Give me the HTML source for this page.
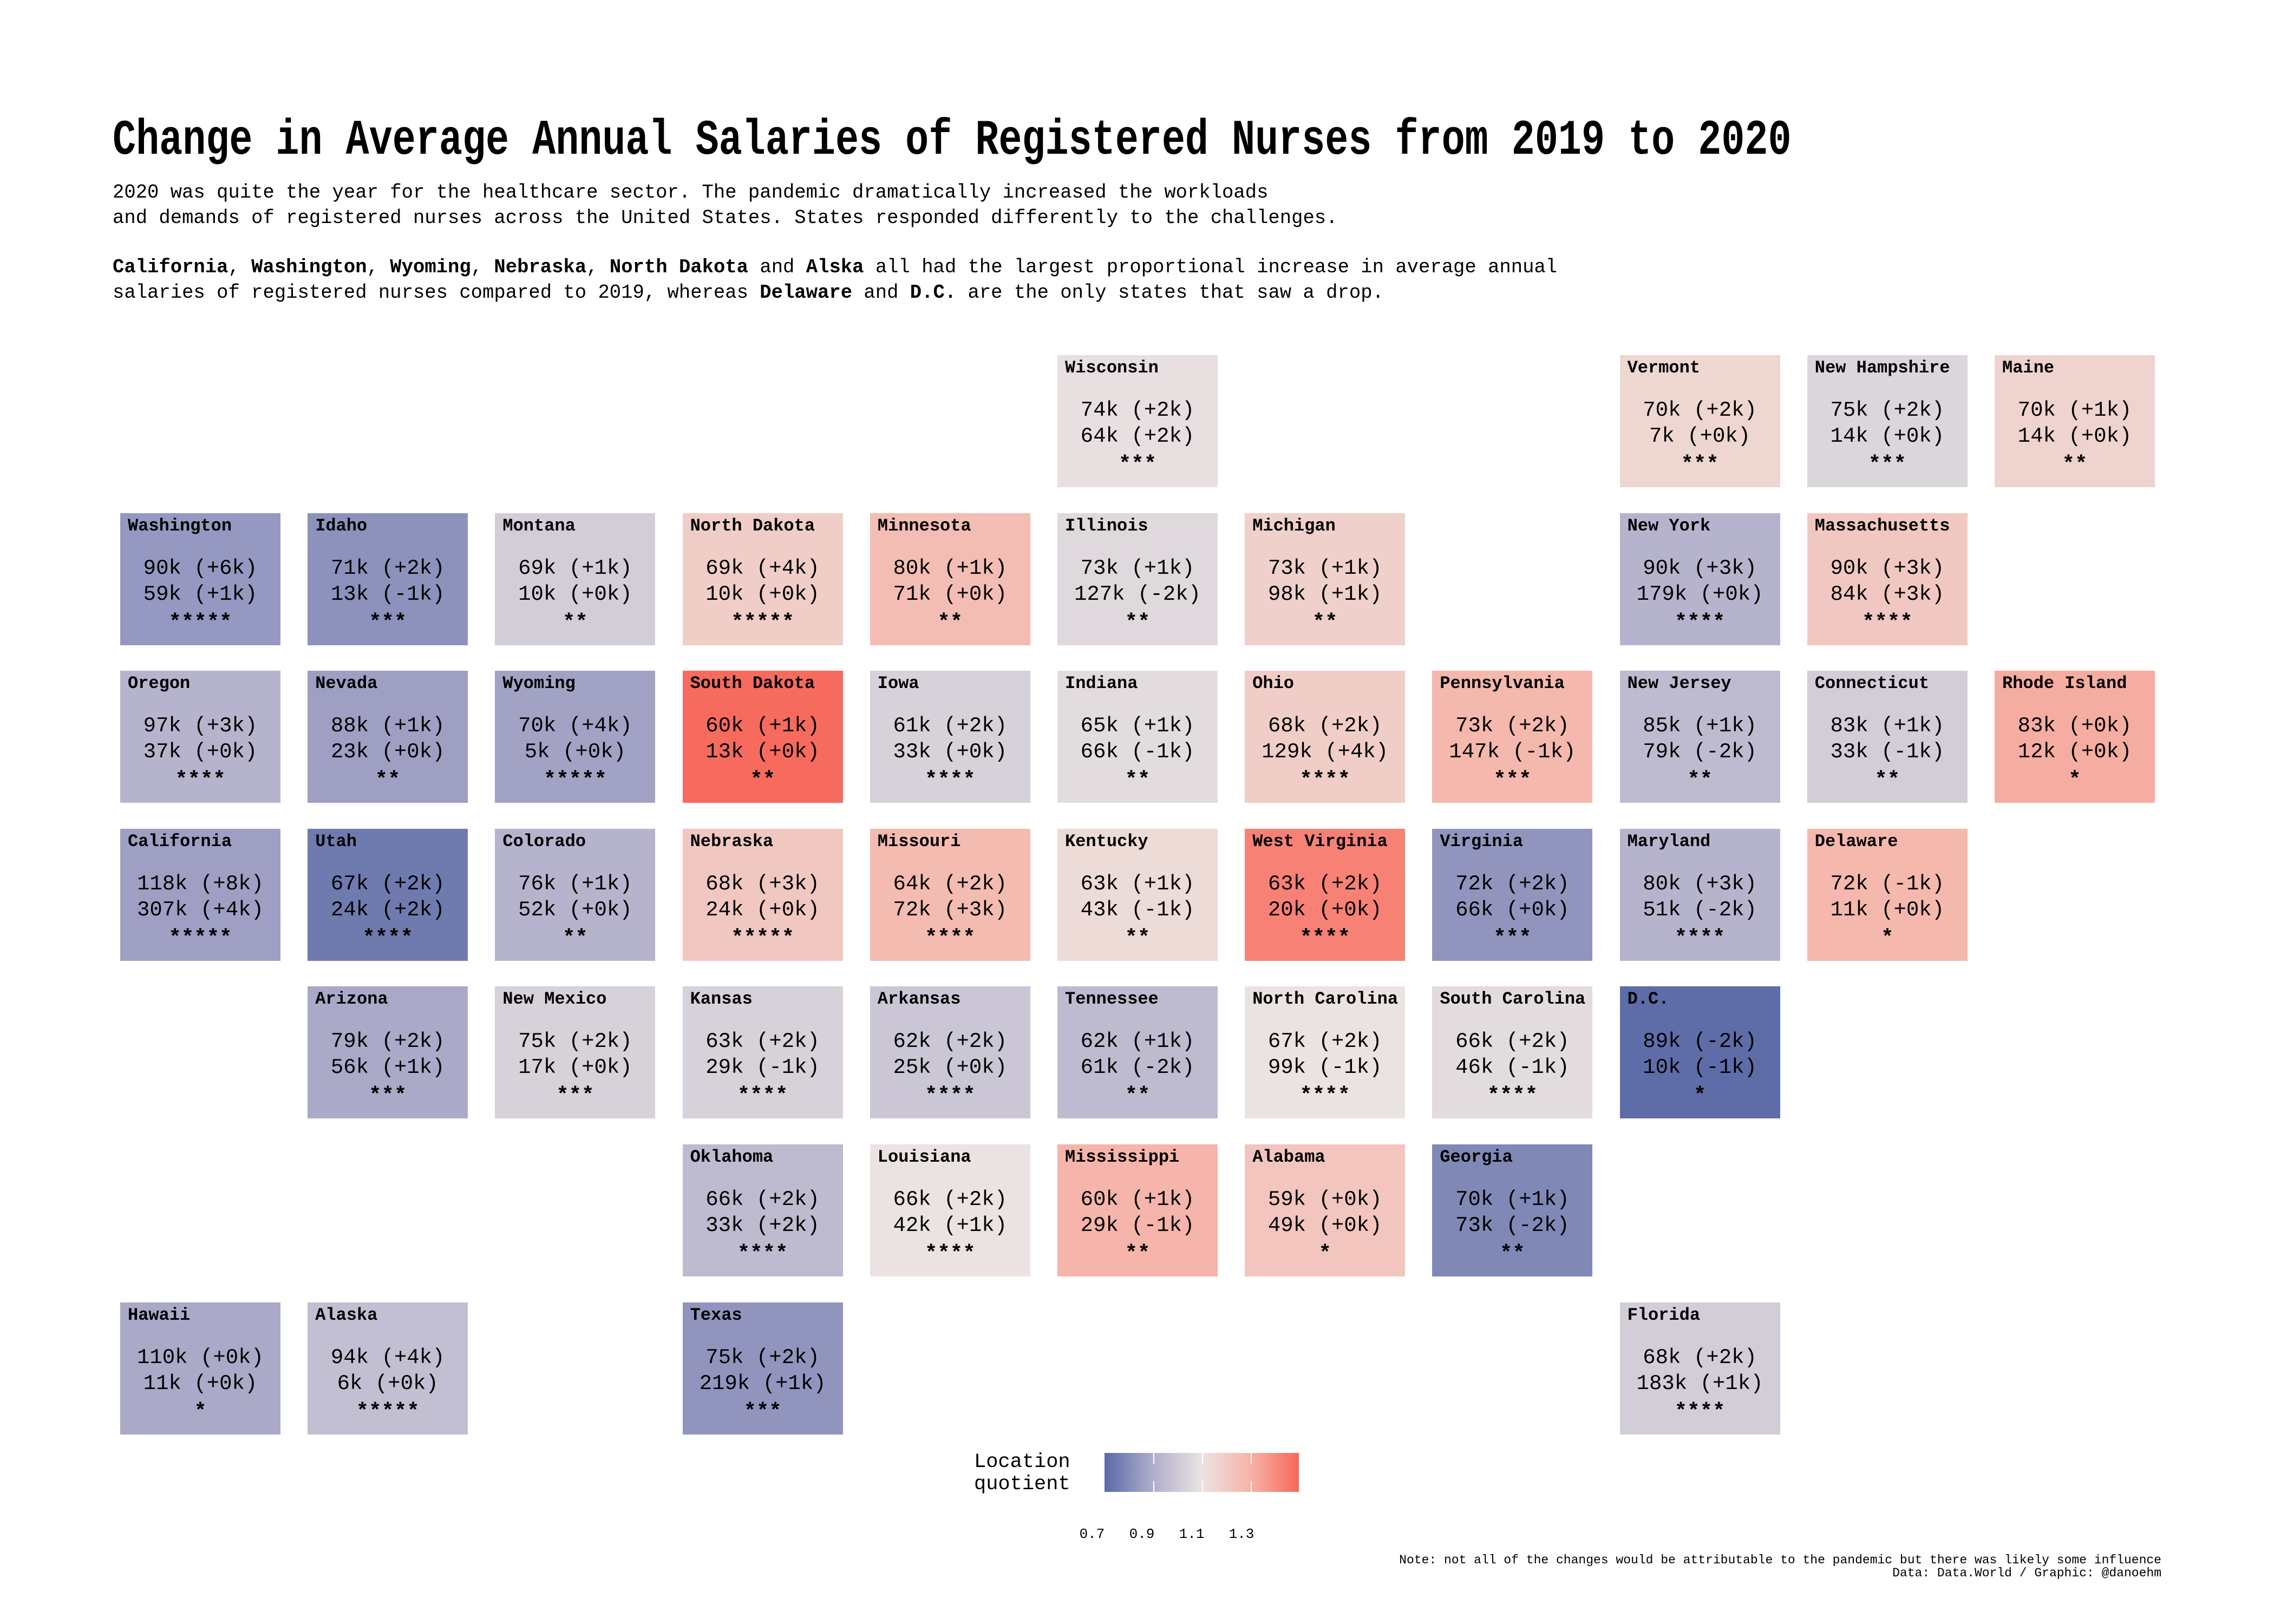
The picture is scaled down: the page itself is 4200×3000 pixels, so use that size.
<!DOCTYPE html>
<html><head><meta charset="utf-8">
<style>
body{margin:0;background:#fff;}
#root{position:relative;width:4200px;height:3000px;overflow:hidden;font-family:"Liberation Mono",monospace;color:#000;}
.t{position:absolute;white-space:pre;}
.tile{position:absolute;width:296px;height:244px;}
.tile .nm{position:absolute;left:14px;top:4px;font-size:32px;font-weight:bold;line-height:40px;}
.tile .v{position:absolute;left:0;width:296px;text-align:center;font-size:39px;line-height:48px;}
</style></head>
<body>
<div id="root">
<div class="t" style="left:208px;top:205px;font-size:92px;font-weight:bold;line-height:110px;transform:scaleX(0.78);transform-origin:0 0;">Change in Average Annual Salaries of Registered Nurses from 2019 to 2020</div>
<div class="t" style="left:208px;top:332px;font-size:36px;line-height:47px;transform:scaleX(0.988);transform-origin:0 0;">2020 was quite the year for the healthcare sector. The pandemic dramatically increased the workloads
and demands of registered nurses across the United States. States responded differently to the challenges.</div>
<div class="t" style="left:208px;top:470px;font-size:36px;line-height:47px;transform:scaleX(0.988);transform-origin:0 0;"><b>California</b>, <b>Washington</b>, <b>Wyoming</b>, <b>Nebraska</b>, <b>North Dakota</b> and <b>Alska</b> all had the largest proportional increase in average annual
salaries of registered nurses compared to 2019, whereas <b>Delaware</b> and <b>D.C.</b> are the only states that saw a drop.</div>
<div id="tiles"></div>
<div class="t" style="left:1799px;top:2681px;font-size:37px;line-height:41px;">Location
quotient</div>
<div id="legend" style="position:absolute;left:2040px;top:2684px;width:359px;height:72px;background:linear-gradient(to right,#5a6aa6,#b0aecb 25%,#ebe3e2 50%,#f6b4a8 75%,#f7675a);"></div>
<div id="ticks"></div>
<div class="t" style="right:208px;top:2870px;font-size:23px;line-height:24px;text-align:right;">Note: not all of the changes would be attributable to the pandemic but there was likely some influence
Data: Data.World / Graphic: @danoehm</div>
</div>
<script>
const states=["Wisconsin","Vermont","New Hampshire","Maine","Washington","Idaho","Montana","North Dakota","Minnesota","Illinois","Michigan","New York","Massachusetts","Oregon","Nevada","Wyoming","South Dakota","Iowa","Indiana","Ohio","Pennsylvania","New Jersey","Connecticut","Rhode Island","California","Utah","Colorado","Nebraska","Missouri","Kentucky","West Virginia","Virginia","Maryland","Delaware","Arizona","New Mexico","Kansas","Arkansas","Tennessee","North Carolina","South Carolina","D.C.","Oklahoma","Louisiana","Mississippi","Alabama","Georgia","Hawaii","Alaska","Texas","Florida"];
const cols=[5,8,9,10,0,1,2,3,4,5,6,8,9,0,1,2,3,4,5,6,7,8,9,10,0,1,2,3,4,5,6,7,8,9,1,2,3,4,5,6,7,8,3,4,5,6,7,0,1,3,8];
const rows=[0,0,0,0,1,1,1,1,1,1,1,1,1,2,2,2,2,2,2,2,2,2,2,2,3,3,3,3,3,3,3,3,3,3,4,4,4,4,4,4,4,4,5,5,5,5,5,6,6,6,6];
const salary=[74,70,75,70,90,71,69,69,80,73,73,90,90,97,88,70,60,61,65,68,73,85,83,83,118,67,76,68,64,63,63,72,80,72,79,75,63,62,62,67,66,89,66,66,60,59,70,110,94,75,68];
const salaryChg=[2,2,2,1,6,2,1,4,1,1,1,3,3,3,1,4,1,2,1,2,2,1,1,0,8,2,1,3,2,1,2,2,3,-1,2,2,2,2,1,2,2,-2,2,2,1,0,1,0,4,2,2];
const employed=[64,7,14,14,59,13,10,10,71,127,98,179,84,37,23,5,13,33,66,129,147,79,33,12,307,24,52,24,72,43,20,66,51,11,56,17,29,25,61,99,46,10,33,42,29,49,73,11,6,219,183];
const employedChg=[2,0,0,0,1,-1,0,0,0,-2,1,0,3,0,0,0,0,0,-1,4,-1,-2,-1,0,4,2,0,0,3,-1,0,0,-2,0,1,0,-1,0,-2,-1,-1,-1,2,1,-1,0,-2,0,0,1,1];
const stars=[3,3,3,2,5,3,2,5,2,2,2,4,4,4,2,5,2,4,2,4,3,2,2,1,5,4,2,5,4,2,4,3,4,1,3,3,4,4,2,4,4,1,4,4,2,1,2,1,5,3,4];
const lq=[0.99,1.05,0.96,1.06,0.79,0.77,0.94,1.08,1.14,0.97,1.07,0.87,1.10,0.87,0.81,0.82,1.34,0.95,0.98,1.08,1.16,0.89,0.94,1.19,0.81,0.70,0.87,1.10,1.15,1.03,1.29,0.78,0.87,1.16,0.84,0.95,0.95,0.92,0.89,1.00,0.98,0.66,0.89,1.00,1.17,1.11,0.74,0.84,0.90,0.78,0.94];
const legendTicks=[0.7,0.9,1.1,1.3];
function xCol(c){return 222+c*346.2;}
function yRow(r){return 656+r*291.6;}
const stops=[[0.65,[90,106,166]],[0.825,[164,164,198]],[1.0,[235,227,226]],[1.175,[246,180,168]],[1.35,[247,103,90]]];
function color(v){
  if(v<=stops[0][0])return 'rgb('+stops[0][1]+')';
  for(let i=1;i<stops.length;i++){
    if(v<=stops[i][0]){const a=stops[i-1],b=stops[i];const t=(v-a[0])/(b[0]-a[0]);
      return 'rgb('+a[1].map((x,k)=>Math.round(x+(b[1][k]-x)*t)).join(',')+')';}
  }
  return 'rgb('+stops[stops.length-1][1]+')';
}
function sg(n){return (n>=0?'+':'')+n+'k';}
const host=document.getElementById('tiles');
states.forEach((s,i)=>{
  const d=document.createElement('div');
  d.className='tile';
  
  
  d.style.left=xCol(cols[i])+'px';d.style.top=yRow(rows[i])+'px';
  d.style.background=color(lq[i]);
  d.innerHTML='<div class="nm">'+s+'</div><div class="v" style="top:78px">'+salary[i]+'k ('+sg(salaryChg[i])+')</div><div class="v" style="top:126px">'+employed[i]+'k ('+sg(employedChg[i])+')</div><div class="v" style="top:178px;font-weight:bold">'+'*'.repeat(stars[i])+'</div>';
  host.appendChild(d);
});
const tk=document.getElementById('ticks');
legendTicks.forEach((v)=>{
  const lx=2017+(v-0.7)/0.2*92;
  const l=document.createElement('div');
  
  
  l.className='t';l.style.cssText='top:2819px;font-size:26px;line-height:30px;width:80px;text-align:center;left:'+(lx-40)+'px';
  l.textContent=v.toFixed(1);tk.appendChild(l);
  if(v>0.75){
    const mx=2040+(v-0.7)/0.2*90;
    ['2684','2736'].forEach(y=>{
      const m=document.createElement('div');
      
      
      m.style.cssText='position:absolute;width:2px;height:20px;background:#fff;top:'+y+'px;left:'+mx+'px';
      tk.appendChild(m);
    });
  }
});
</script>
</body></html>
